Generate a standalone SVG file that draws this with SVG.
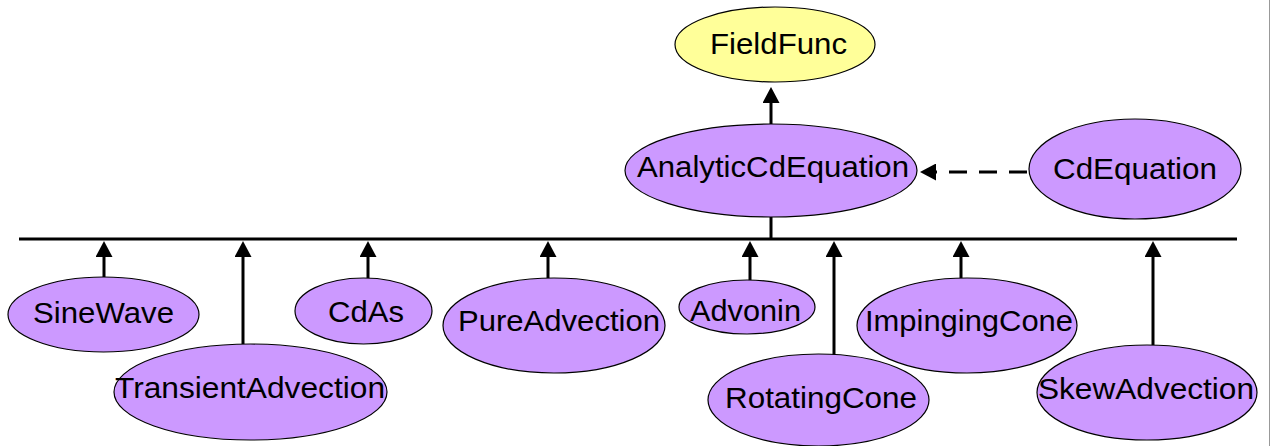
<svg xmlns="http://www.w3.org/2000/svg" width="1276" height="446" viewBox="0 0 1276 446">
<style>
.n{fill:#CC99FF;stroke:#000;stroke-width:1.2}
.y{fill:#FFFF99;stroke:#000;stroke-width:1.2}
.t{font-family:"Liberation Sans",Arial,sans-serif;font-size:29px;fill:#000}
.c{stroke:#000;stroke-width:3;fill:none}
</style>
<defs>
<marker id="ah" viewBox="0 0 16 17" refX="0" refY="8.5" markerWidth="16" markerHeight="17" markerUnits="userSpaceOnUse" orient="auto">
<path d="M0,0 L16,8.5 L0,17 z" fill="#000"/>
</marker>
</defs>
<rect x="0" y="0" width="1276" height="446" fill="#fff"/>
<line x1="1269.5" y1="0" x2="1269.5" y2="446" stroke="#999" stroke-width="1"/>
<g id="connectors">
<line class="c" x1="19" y1="239" x2="1237" y2="239" stroke-width="2.5"/>
<line class="c" x1="771" y1="217" x2="771" y2="239"/>
<line class="c" x1="771" y1="124" x2="771" y2="103" marker-end="url(#ah)"/>
<line class="c" x1="1027" y1="172" x2="936" y2="172" stroke-dasharray="18 12" marker-end="url(#ah)"/>
<line class="c" x1="104" y1="277" x2="104" y2="257" marker-end="url(#ah)"/>
<line class="c" x1="243" y1="344" x2="243" y2="257" marker-end="url(#ah)"/>
<line class="c" x1="368" y1="278" x2="368" y2="257" marker-end="url(#ah)"/>
<line class="c" x1="548" y1="278" x2="548" y2="257" marker-end="url(#ah)"/>
<line class="c" x1="750" y1="280" x2="750" y2="257" marker-end="url(#ah)"/>
<line class="c" x1="834" y1="355" x2="834" y2="257" marker-end="url(#ah)"/>
<line class="c" x1="961" y1="278" x2="961" y2="257" marker-end="url(#ah)"/>
<line class="c" x1="1153" y1="345" x2="1153" y2="257" marker-end="url(#ah)"/>
</g>
<g id="FieldFunc"><ellipse class="y" cx="775" cy="44.5" rx="100" ry="37.5"/><text class="t" x="710" y="54" textLength="137" lengthAdjust="spacingAndGlyphs">FieldFunc</text></g>
<g id="AnalyticCdEquation"><ellipse class="n" cx="771" cy="170.5" rx="146" ry="46.5"/><text class="t" x="637" y="177" textLength="272" lengthAdjust="spacingAndGlyphs">AnalyticCdEquation</text></g>
<g id="CdEquation"><ellipse class="n" cx="1135" cy="169" rx="106" ry="50"/><text class="t" x="1053" y="179" textLength="164" lengthAdjust="spacingAndGlyphs">CdEquation</text></g>
<g id="SineWave"><ellipse class="n" cx="103.5" cy="314.5" rx="95.5" ry="37.5"/><text class="t" x="33" y="323" textLength="141" lengthAdjust="spacingAndGlyphs">SineWave</text></g>
<g id="TransientAdvection"><ellipse class="n" cx="250.5" cy="392" rx="136.5" ry="48"/><text class="t" x="115" y="398" textLength="270" lengthAdjust="spacingAndGlyphs">TransientAdvection</text></g>
<g id="CdAs"><ellipse class="n" cx="363.5" cy="311" rx="68.5" ry="33"/><text class="t" x="328" y="322" textLength="76" lengthAdjust="spacingAndGlyphs">CdAs</text></g>
<g id="PureAdvection"><ellipse class="n" cx="554" cy="325.5" rx="111" ry="47.5"/><text class="t" x="458" y="331" textLength="202" lengthAdjust="spacingAndGlyphs">PureAdvection</text></g>
<g id="Advonin"><ellipse class="n" cx="747" cy="307" rx="68" ry="27"/><text class="t" x="690" y="321" textLength="111" lengthAdjust="spacingAndGlyphs">Advonin</text></g>
<g id="RotatingCone"><ellipse class="n" cx="818.5" cy="400" rx="110.5" ry="46"/><text class="t" x="725" y="408" textLength="192" lengthAdjust="spacingAndGlyphs">RotatingCone</text></g>
<g id="ImpingingCone"><ellipse class="n" cx="967" cy="325.5" rx="110" ry="47.5"/><text class="t" x="865" y="331" textLength="208" lengthAdjust="spacingAndGlyphs">ImpingingCone</text></g>
<g id="SkewAdvection"><ellipse class="n" cx="1147" cy="392.5" rx="110" ry="47.5"/><text class="t" x="1038" y="399" textLength="216" lengthAdjust="spacingAndGlyphs">SkewAdvection</text></g>
</svg>
